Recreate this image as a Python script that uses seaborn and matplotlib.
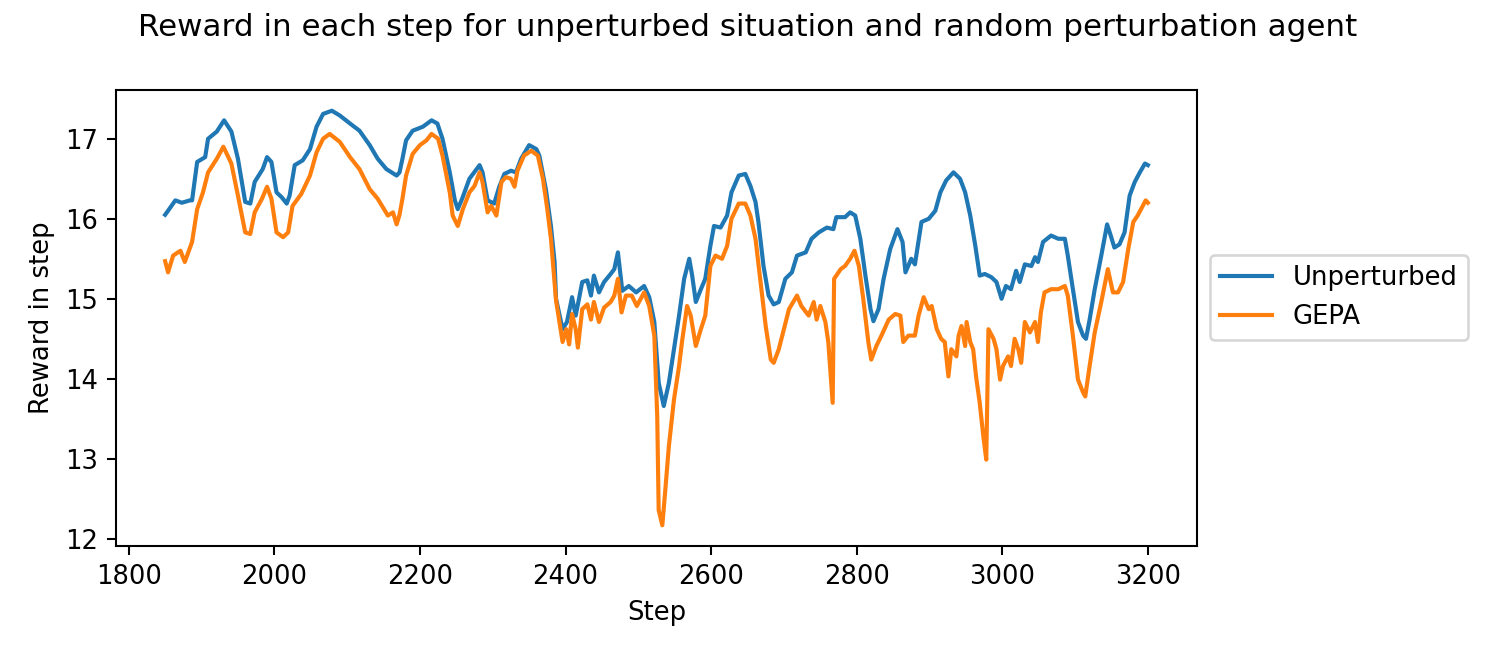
import pandas as pd
import matplotlib
matplotlib.use("Agg")
import matplotlib.pyplot as plt
import seaborn as sns

# values
steps_unperturbed = [1850, 1854, 1864, 1873, 1884, 1887, 1894, 1905, 1909, 1921, 1931, 1941, 1950, 1960,
                     1967, 1973, 1984, 1990, 1996, 2003, 2010, 2017, 2021, 2028, 2039, 2049, 2058, 2067,
                     2079, 2090, 2104, 2117, 2131, 2142, 2154, 2168, 2172, 2176, 2181, 2190, 2204, 2216,
                     2224, 2231, 2241, 2248, 2252, 2258, 2268, 2282, 2286, 2293, 2302, 2309, 2316, 2325,
                     2332, 2339, 2350, 2360, 2364, 2373, 2380, 2385, 2387, 2396, 2402, 2409, 2414, 2423,
                     2430, 2435, 2439, 2446, 2453, 2462, 2467, 2472, 2478, 2487, 2497, 2508, 2515, 2522,
                     2528, 2535, 2542, 2549, 2556, 2563, 2570, 2574, 2579, 2586, 2592, 2599, 2604, 2613,
                     2622, 2628, 2638, 2647, 2654, 2661, 2665, 2672, 2679, 2686, 2693, 2702, 2711, 2718,
                     2730, 2738, 2748, 2759, 2768, 2772, 2784, 2791, 2798, 2805, 2812, 2819, 2823, 2830,
                     2837, 2846, 2856, 2863, 2867, 2875, 2880, 2889, 2899, 2908, 2915, 2923, 2933, 2942,
                     2949, 2956, 2963, 2969, 2976, 2985, 2992, 2999, 3005, 3012, 3019, 3024, 3031, 3040,
                     3045, 3049, 3056, 3067, 3077, 3086, 3090, 3097, 3104, 3111, 3115, 3120, 3127, 3136,
                     3144, 3149, 3154, 3161, 3168, 3175, 3182, 3189, 3196, 3200]
reward_unperturbed = [16.05, 16.10, 16.23, 16.20, 16.23, 16.23, 16.71, 16.77, 17.00, 17.09, 17.23, 17.09, 16.75, 16.21,
                      16.19, 16.46, 16.62, 16.77, 16.71, 16.33, 16.27, 16.19, 16.29, 16.67, 16.73, 16.87, 17.15, 17.31,
                      17.35, 17.29, 17.19, 17.10, 16.92, 16.75, 16.62, 16.54, 16.58, 16.75, 16.98, 17.10, 17.15, 17.23,
                      17.19, 17.00, 16.58, 16.23, 16.12, 16.25, 16.50, 16.67, 16.58, 16.23, 16.19, 16.40, 16.56, 16.60,
                      16.58, 16.75, 16.92, 16.87, 16.79, 16.37, 15.91, 15.46, 15.00, 14.62, 14.71, 15.02, 14.79, 15.21,
                      15.23, 15.04, 15.29, 15.08, 15.21, 15.31, 15.37, 15.58, 15.10, 15.16, 15.08, 15.16, 15.02, 14.71,
                      13.95, 13.66, 13.95, 14.37, 14.79, 15.25, 15.50, 15.29, 14.96, 15.12, 15.25, 15.66, 15.91, 15.89,
                      16.04, 16.33, 16.54, 16.56, 16.41, 16.21, 15.96, 15.41, 15.04, 14.93, 14.96, 15.25, 15.33, 15.54,
                      15.58, 15.75, 15.83, 15.89, 15.87, 16.02, 16.02, 16.08, 16.04, 15.75, 15.29, 14.87, 14.72, 14.87,
                      15.25, 15.62, 15.87, 15.71, 15.33, 15.50, 15.43, 15.96, 16.00, 16.10, 16.33, 16.48, 16.58, 16.50,
                      16.33, 16.04, 15.66, 15.29, 15.31, 15.27, 15.21, 15.00, 15.16, 15.12, 15.35, 15.21, 15.43, 15.41,
                      15.52, 15.46, 15.71, 15.79, 15.75, 15.75, 15.54, 15.12, 14.71, 14.54, 14.50, 14.74, 15.12, 15.54,
                      15.93, 15.79, 15.64, 15.68, 15.83, 16.29, 16.46, 16.58, 16.69, 16.67]

steps_gepa = [1850, 1854, 1861, 1871, 1877, 1887, 1894, 1902, 1909, 1921, 1930, 1941, 1950, 1960, 1967,
              1973, 1983, 1990, 1996, 2003, 2012, 2019, 2025, 2037, 2049, 2058, 2067, 2076, 2090, 2104,
              2117, 2131, 2142, 2156, 2163, 2168, 2172, 2176, 2181, 2190, 2200, 2209, 2216, 2225, 2231,
              2241, 2245, 2252, 2259, 2268, 2275, 2282, 2286, 2293, 2298, 2305, 2312, 2318, 2325, 2330,
              2334, 2343, 2353, 2362, 2369, 2375, 2380, 2387, 2396, 2401, 2405, 2409, 2414, 2417, 2423,
              2430, 2435, 2439, 2446, 2453, 2462, 2467, 2472, 2477, 2483, 2491, 2498, 2508, 2515, 2522,
              2526, 2528, 2533, 2537, 2542, 2549, 2556, 2560, 2567, 2572, 2579, 2586, 2592, 2599, 2606,
              2615, 2622, 2628, 2638, 2647, 2654, 2661, 2668, 2675, 2682, 2686, 2693, 2700, 2707, 2718,
              2724, 2734, 2741, 2745, 2750, 2757, 2761, 2767, 2769, 2778, 2784, 2791, 2797, 2803, 2809,
              2816, 2820, 2827, 2834, 2844, 2853, 2860, 2864, 2871, 2880, 2885, 2892, 2899, 2903, 2910,
              2916, 2921, 2926, 2930, 2937, 2940, 2944, 2949, 2951, 2956, 2960, 2964, 2969, 2974, 2978,
              2981, 2988, 2992, 2997, 3001, 3008, 3012, 3017, 3022, 3026, 3031, 3038, 3045, 3049, 3053,
              3058, 3067, 3077, 3086, 3090, 3097, 3104, 3111, 3114, 3120, 3127, 3136, 3145, 3152, 3159,
              3166, 3173, 3180, 3186, 3193, 3197, 3200]
reward_gepa = [15.47, 15.33, 15.54, 15.60, 15.46, 15.71, 16.12, 16.33, 16.58, 16.75, 16.90, 16.69, 16.29, 15.83, 15.81,
               16.08, 16.25, 16.40, 16.25, 15.83, 15.77, 15.83, 16.16, 16.31, 16.54, 16.83, 17.00, 17.06, 16.96, 16.77,
               16.62, 16.37, 16.25, 16.04, 16.08, 15.93, 16.05, 16.25, 16.54, 16.81, 16.92, 16.98, 17.06, 17.00, 16.79,
               16.33, 16.04, 15.91, 16.12, 16.33, 16.41, 16.58, 16.46, 16.08, 16.16, 16.04, 16.46, 16.52, 16.50, 16.40,
               16.60, 16.79, 16.85, 16.79, 16.50, 16.12, 15.75, 14.98, 14.46, 14.62, 14.43, 14.81, 14.62, 14.39, 14.87,
               14.93, 14.74, 14.96, 14.71, 14.89, 14.96, 15.04, 15.25, 14.83, 15.04, 15.04, 14.91, 15.08, 14.91, 14.54,
               13.53, 12.36, 12.17, 12.60, 13.16, 13.74, 14.16, 14.46, 14.91, 14.79, 14.41, 14.62, 14.79, 15.41, 15.54,
               15.50, 15.66, 16.00, 16.19, 16.19, 16.04, 15.75, 15.21, 14.66, 14.24, 14.20, 14.37, 14.62, 14.87, 15.04,
               14.91, 14.79, 14.96, 14.74, 14.91, 14.71, 14.46, 13.70, 15.25, 15.37, 15.41, 15.50, 15.60, 15.41, 15.00,
               14.46, 14.24, 14.41, 14.54, 14.74, 14.81, 14.79, 14.46, 14.54, 14.54, 14.79, 15.02, 14.87, 14.91, 14.62,
               14.50, 14.46, 14.03, 14.37, 14.28, 14.54, 14.66, 14.41, 14.71, 14.46, 14.37, 14.03, 13.70, 13.28, 12.99,
               14.62, 14.50, 14.37, 13.99, 14.16, 14.28, 14.16, 14.50, 14.37, 14.20, 14.71, 14.58, 14.71, 14.46, 14.83,
               15.08, 15.12, 15.12, 15.16, 15.04, 14.54, 13.99, 13.83, 13.78, 14.16, 14.58, 14.96, 15.37, 15.08, 15.08,
               15.21, 15.62, 15.96, 16.04, 16.16, 16.23, 16.20]

df = pd.concat([
    pd.DataFrame({"Step": steps_unperturbed, "Reward": reward_unperturbed, "Agent": "Unperturbed"}),
    pd.DataFrame({"Step": steps_gepa, "Reward": reward_gepa, "Agent": "GEPA"}),
])

DPI = 186
fig, ax = plt.subplots(figsize=(1495 / DPI, 654 / DPI), dpi=DPI)
fig.subplots_adjust(left=116 / 1495, right=1197 / 1495, top=1 - 90 / 654, bottom=1 - 546 / 654)

sns.lineplot(data=df, x="Step", y="Reward", hue="Agent", estimator=None,
             palette=["#1f77b4", "#ff7f0e"], linewidth=1.6, ax=ax)

fig.suptitle("Reward in each step for unperturbed situation and random perturbation agent")
ax.set_xlabel("Step")
ax.set_ylabel("Reward in step")
ax.set_xticks(range(1800, 3201, 200))
sns.move_legend(ax, "center left", bbox_to_anchor=(1.0, 0.545), title=None)

fig.savefig("out.png", dpi=DPI)
